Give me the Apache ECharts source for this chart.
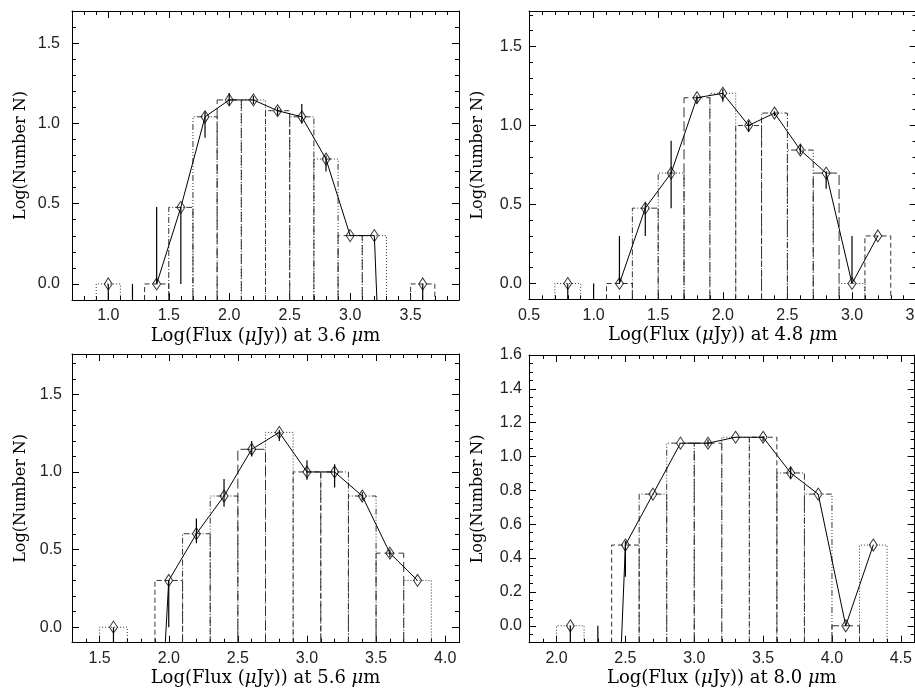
<!DOCTYPE html>
<html><head><meta charset="utf-8">
<script src="https://cdn.jsdelivr.net/npm/echarts@6/dist/echarts.min.js"></script>
<style>html,body{margin:0;padding:0;background:#fff}#c{width:915px;height:693px}</style>
</head><body><div id="c"></div>
<script>
// ================= DATA =================
const binWidth = 0.2;

// ---- 3.6 micron ----
const p1BinX  = [1.0, 1.4, 1.6, 1.8, 2.0, 2.2, 2.4, 2.6, 2.8, 3.0, 3.2, 3.6];
const p1LogN  = [0, 0, 0.477, 1.041, 1.146, 1.146, 1.079, 1.041, 0.778, 0.301, 0.301, 0];
const p1LineX = [1.4, 1.6, 1.8, 2.0, 2.2, 2.4, 2.6, 2.8, 3.0, 3.2, 3.4];
const p1LineY = [0, 0.477, 1.041, 1.146, 1.146, 1.079, 1.041, 0.778, 0.301, 0.301, -3.5];
const p1ErrX  = [1.0, 1.2, 1.4, 1.6, 1.8, 2.0, 2.2, 2.4, 2.6, 2.8, 3.6];
const p1ErrLo = [-0.3, -0.3, 0, 0, 0.91, 1.11, 1.12, 1.05, 1.00, 0.70, -0.3];
const p1ErrHi = [0, 0, 0.48, 0.48, 1.075, 1.19, 1.17, 1.10, 1.12, 0.80, 0];
const p1XTicks = [1.0, 1.5, 2.0, 2.5, 3.0, 3.5];
const p1YTicks = [0.0, 0.5, 1.0, 1.5];

// ---- 4.8 micron ----
const p2BinX  = [0.8, 1.2, 1.4, 1.6, 1.8, 2.0, 2.2, 2.4, 2.6, 2.8, 3.0, 3.2];
const p2LogN  = [0, 0, 0.477, 0.699, 1.176, 1.204, 1.0, 1.079, 0.845, 0.699, 0, 0.301];
const p2LineX = [1.2, 1.4, 1.6, 1.8, 2.0, 2.2, 2.4, 2.6, 2.8, 3.0, 3.2];
const p2LineY = [0, 0.477, 0.699, 1.176, 1.204, 1.0, 1.079, 0.845, 0.699, 0, 0.301];
const p2ErrX  = [0.8, 1.0, 1.2, 1.4, 1.6, 1.8, 2.0, 2.2, 2.4, 2.6, 2.8, 3.0];
const p2ErrLo = [-0.3, -0.3, 0, 0.30, 0.477, 1.14, 1.15, 0.96, 1.06, 0.82, 0.60, 0];
const p2ErrHi = [0, 0, 0.30, 0.51, 0.903, 1.19, 1.23, 1.03, 1.09, 0.88, 0.71, 0.30];
const p2XTicks = [0.5, 1.0, 1.5, 2.0, 2.5, 3.0, 3.5];
const p2YTicks = [0.0, 0.5, 1.0, 1.5];

// ---- 5.6 micron ----
const p3BinX  = [1.6, 2.0, 2.2, 2.4, 2.6, 2.8, 3.0, 3.2, 3.4, 3.6, 3.8];
const p3LogN  = [0, 0.301, 0.602, 0.845, 1.146, 1.255, 1.0, 1.0, 0.845, 0.477, 0.301];
const p3LineX = [1.8, 2.0, 2.2, 2.4, 2.6, 2.8, 3.0, 3.2, 3.4, 3.6, 3.8];
const p3LineY = [-2.9, 0.301, 0.602, 0.845, 1.146, 1.255, 1.0, 1.0, 0.845, 0.477, 0.301];
const p3ErrX  = [1.6, 2.0, 2.2, 2.4, 2.6, 2.8, 3.0, 3.2, 3.4, 3.6];
const p3ErrLo = [-0.3, 0, 0.54, 0.776, 1.10, 1.20, 0.95, 0.90, 0.82, 0.45];
const p3ErrHi = [0, 0.30, 0.70, 0.954, 1.20, 1.27, 1.076, 1.05, 0.87, 0.50];
const p3XTicks = [1.5, 2.0, 2.5, 3.0, 3.5, 4.0];
const p3YTicks = [0.0, 0.5, 1.0, 1.5];

// ---- 8.0 micron ----
const p4BinX  = [2.1, 2.5, 2.7, 2.9, 3.1, 3.3, 3.5, 3.7, 3.9, 4.1, 4.3];
const p4LogN  = [0, 0.477, 0.778, 1.079, 1.079, 1.114, 1.114, 0.903, 0.778, 0, 0.477];
const p4LineX = [2.3, 2.5, 2.7, 2.9, 3.1, 3.3, 3.5, 3.7, 3.9, 4.1, 4.3];
const p4LineY = [-3.5, 0.477, 0.778, 1.079, 1.079, 1.114, 1.114, 0.903, 0.778, 0, 0.477];
const p4ErrX  = [2.1, 2.3, 2.5, 3.1, 3.5, 3.7];
const p4ErrLo = [-0.3, -0.3, 0.29, 1.06, 1.09, 0.87];
const p4ErrHi = [0, 0, 0.50, 1.10, 1.12, 0.94];
const p4XTicks = [2.0, 2.5, 3.0, 3.5, 4.0, 4.5];
const p4YTicks = [0.0, 0.2, 0.4, 0.6, 0.8, 1.0, 1.2, 1.4, 1.6];

// ================= LAYOUT / STYLE =================
const panels = [
  {binX:p1BinX, logN:p1LogN, lineX:p1LineX, lineY:p1LineY, errX:p1ErrX, errLo:p1ErrLo, errHi:p1ErrHi,
   xTicks:p1XTicks, yTicks:p1YTicks, wl:'3.6', x:[0.7,3.9], y:[-0.1,1.70], xMinor:0.1, yMinor:0.1,
   grid:{left:72, top:11, width:387, height:289}, yLabMargin:12},
  {binX:p2BinX, logN:p2LogN, lineX:p2LineX, lineY:p2LineY, errX:p2ErrX, errLo:p2ErrLo, errHi:p2ErrHi,
   xTicks:p2XTicks, yTicks:p2YTicks, wl:'4.8', x:[0.5,3.5], y:[-0.1,1.725], xMinor:0.1, yMinor:0.1,
   grid:{left:529, top:11, width:387.6, height:288.3}, yLabMargin:7},
  {binX:p3BinX, logN:p3LogN, lineX:p3LineX, lineY:p3LineY, errX:p3ErrX, errLo:p3ErrLo, errHi:p3ErrHi,
   xTicks:p3XTicks, yTicks:p3YTicks, wl:'5.6', x:[1.3,4.1], y:[-0.1,1.76], xMinor:0.1, yMinor:0.1,
   grid:{left:72, top:354, width:387, height:288.7}, yLabMargin:10},
  {binX:p4BinX, logN:p4LogN, lineX:p4LineX, lineY:p4LineY, errX:p4ErrX, errLo:p4ErrLo, errHi:p4ErrHi,
   xTicks:p4XTicks, yTicks:p4YTicks, wl:'8.0', x:[1.8,4.6], y:[-0.1,1.6], xMinor:0.1, yMinor:0.05,
   grid:{left:529, top:355, width:385.6, height:287.7}, yLabMargin:7}
];

const dashStyles = [[1,2],[5,3],[6,2,1,2],[6,2,1,2,1,2,1,2],[10,4]];

function steps(min, max, step) {
  const out = [];
  for (let k = Math.ceil(min / step - 1e-9); k * step <= max + 1e-9; k++) out.push(+(k * step).toFixed(4));
  return out;
}

function axis(gi, pos, range, ticks, len, showLine) {
  return {
    type: 'value', gridIndex: gi, position: pos, min: range[0], max: range[1],
    axisLine: {show: showLine, onZero: false, lineStyle: {color: '#000', width: 1}},
    axisTick: {show: true, inside: true, length: len, customValues: ticks, lineStyle: {color: '#000', width: 1}},
    axisLabel: {show: false},
    splitLine: {show: false}
  };
}

const xAxes = [], yAxes = [], series = [];
const labelFont = {fontFamily: 'Liberation Sans', fontSize: 16, color: '#222'};

panels.forEach((p, gi) => {
  const xMinorT = steps(p.x[0], p.x[1], p.xMinor);
  const yMinorT = steps(p.y[0], p.y[1], p.yMinor);
  const xIdx = xAxes.length, yIdx = yAxes.length;

  const xb = axis(gi, 'bottom', p.x, p.xTicks, 7, true);
  xb.axisLabel = Object.assign({show: true, customValues: p.xTicks, margin: 8, formatter: v => v.toFixed(1)}, labelFont);
  xb.name = 'Log(Flux ({it|\u03bc}Jy)) at ' + p.wl + ' {it|\u03bc}m';
  xb.nameLocation = 'middle';
  xb.nameGap = 27;
  xb.nameTextStyle = {fontFamily: 'DejaVu Serif', fontSize: 18, color: '#000',
    rich: {it: {fontFamily: 'DejaVu Serif', fontStyle: 'italic', fontSize: 18, color: '#000'}}};
  xAxes.push(xb);
  xAxes.push(axis(gi, 'bottom', p.x, xMinorT, 4, false));
  xAxes.push(axis(gi, 'top', p.x, p.xTicks, 7, true));
  xAxes.push(axis(gi, 'top', p.x, xMinorT, 4, false));

  const yl = axis(gi, 'left', p.y, p.yTicks, 7, true);
  yl.axisLabel = Object.assign({show: true, customValues: p.yTicks, margin: p.yLabMargin, formatter: v => v.toFixed(1)}, labelFont);
  yl.name = 'Log(Number N)';
  yl.nameLocation = 'middle';
  yl.nameGap = 43;
  yl.nameTextStyle = {fontFamily: 'DejaVu Serif', fontSize: 16, color: '#000'};
  yAxes.push(yl);
  yAxes.push(axis(gi, 'left', p.y, yMinorT, 4, false));
  yAxes.push(axis(gi, 'right', p.y, p.yTicks, 7, true));
  yAxes.push(axis(gi, 'right', p.y, yMinorT, 4, false));

  const yMin = p.y[0];

  // histogram bins
  series.push({
    type: 'custom', xAxisIndex: xIdx, yAxisIndex: yIdx, silent: true, z: 1, clip: true,
    data: p.binX.map((x, k) => [x, p.logN[k]]),
    renderItem: (params, api) => {
      const x = api.value(0), v = api.value(1), h = binWidth / 2;
      const a = api.coord([x - h, yMin]), b = api.coord([x - h, v]);
      const c = api.coord([x + h, v]), d = api.coord([x + h, yMin]);
      return {type: 'polyline', shape: {points: [a, b, c, d]},
        style: {stroke: '#333', fill: null, lineWidth: 1, lineDash: dashStyles[params.dataIndex % dashStyles.length]}};
    }
  });

  // error bars
  series.push({
    type: 'custom', xAxisIndex: xIdx, yAxisIndex: yIdx, silent: true, z: 5, clip: true,
    data: p.errX.map((x, k) => [x, p.errLo[k], p.errHi[k]]),
    renderItem: (params, api) => {
      const x = api.value(0);
      const lo = Math.max(api.value(1), yMin), hi = Math.max(api.value(2), yMin);
      const a = api.coord([x, lo]), b = api.coord([x, hi]);
      return {type: 'line', shape: {x1: a[0], y1: a[1], x2: b[0], y2: b[1]},
        style: {stroke: '#000', lineWidth: 1.2}};
    }
  });

  // connecting line
  series.push({
    type: 'line', xAxisIndex: xIdx, yAxisIndex: yIdx, silent: true, z: 3, clip: true,
    data: p.lineX.map((x, k) => [x, p.lineY[k]]),
    showSymbol: false, lineStyle: {color: '#000', width: 1}
  });

  // diamonds
  series.push({
    type: 'scatter', xAxisIndex: xIdx, yAxisIndex: yIdx, silent: true, z: 4,
    data: p.binX.map((x, k) => [x, p.logN[k]]),
    symbol: 'diamond', symbolSize: [8, 12],
    itemStyle: {color: 'rgba(255,255,255,0)', borderColor: '#000', borderWidth: 1}
  });
});

const chart = echarts.init(document.getElementById('c'));
chart.setOption({
  animation: false,
  backgroundColor: '#fff',
  grid: panels.map(p => Object.assign({containLabel: false, outerBoundsMode: 'none'}, p.grid)),
  xAxis: xAxes,
  yAxis: yAxes,
  series: series
});
</script>
</body></html>
